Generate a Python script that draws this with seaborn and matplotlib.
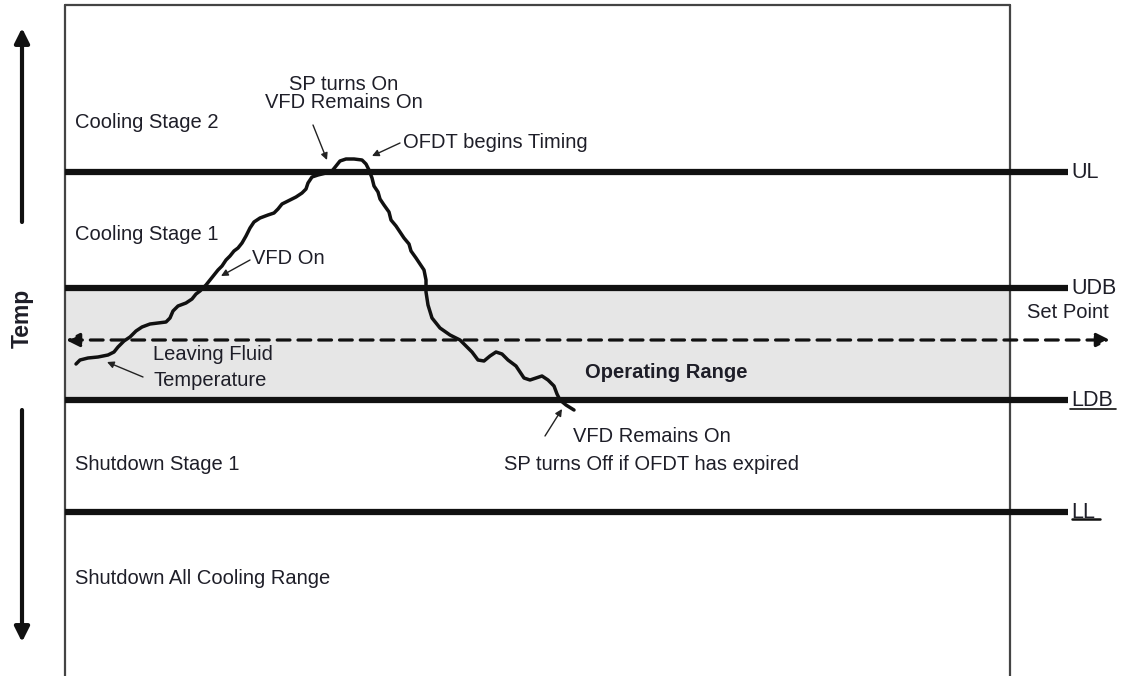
import matplotlib
matplotlib.use("Agg")
import matplotlib.pyplot as plt
import seaborn as sns
import pandas as pd

sns.set_theme(style="white")
plt.rcParams['font.family'] = ['Liberation Sans', 'DejaVu Sans']

# ---- data (diagram coordinates: x = time, y = screen position of temperature) ----
level_names = ["UL", "UDB", "LDB", "LL"]
level_y = [172, 288, 400, 512]
setpoint_y = 340

curve_x = [76, 80, 88, 98, 108, 114, 118, 124, 130, 136, 142, 150, 158, 166, 170, 173, 178, 186,
           192, 196, 200, 206, 210, 214, 218, 222, 226, 230, 234, 238, 242, 246, 250, 254, 260,
           268, 274, 278, 282, 288, 296, 302, 306, 308, 312, 318, 326, 332, 336, 340, 346, 354,
           362, 366, 369, 372, 374, 378, 380, 384, 389, 391, 396, 400, 404, 409, 411, 416, 420,
           424, 426, 426, 428, 432, 440, 450, 460, 466, 472, 478, 484, 490, 496, 502, 508, 516,
           520, 524, 530, 536, 542, 548, 554, 557, 560, 566, 574]
curve_y = [364, 360, 358, 357, 355, 352, 347, 341, 337, 331, 327, 324, 323, 322, 318, 311, 306, 303,
           299, 294, 291, 285, 280, 275, 270, 266, 260, 256, 251, 248, 243, 236, 228, 222, 218,
           215, 213, 209, 204, 201, 197, 193, 189, 183, 177, 175, 173, 171, 166, 161, 159, 159,
           160, 164, 170, 178, 186, 192, 199, 205, 212, 220, 226, 232, 238, 244, 251, 258, 264,
           270, 280, 292, 305, 318, 328, 335, 340, 346, 352, 360, 361, 356, 352, 354, 360, 366,
           372, 378, 380, 378, 376, 380, 386, 394, 400, 405, 410]

zone_labels = ["Cooling Stage 2", "Cooling Stage 1", "Shutdown Stage 1", "Shutdown All Cooling Range"]
zone_label_y = [122, 235, 465, 578]

# ---- figure ----
fig = plt.figure(figsize=(11.32, 6.76), dpi=100)
ax = fig.add_axes([0, 0, 1, 1])

txt = "#1e1e28"
fs = 14.5
box_l, box_r, box_t = 65, 1010, 5

# operating range shading
ax.fill_between([box_l, box_r], level_y[1], level_y[2], color="#e6e6e6", zorder=0)

# box borders
ax.plot([box_l, box_l], [box_t, 676], color="#444444", lw=1.6, zorder=1)
ax.plot([box_l, box_r], [box_t, box_t], color="#444444", lw=1.6, zorder=1)
ax.plot([box_r, box_r], [box_t, 676], color="#444444", lw=1.6, zorder=1)

# level lines
ax.hlines(level_y, box_l, 1068, color="#111111", lw=4.5, zorder=3)
for name, y in zip(level_names, level_y):
    ax.text(1071, y, name, fontsize=15.5, color=txt, va="center", ha="left")
# underlines for LDB and LL
ax.plot([1070, 1116], [level_y[2] + 9, level_y[2] + 9], color="#111111", lw=1.2)
ax.plot([1072, 1100], [level_y[3] + 7, level_y[3] + 7], color="#111111", lw=1.8)
ax.text(1027, 312, "Set Point", fontsize=14.5, color=txt, va="center", ha="left")

# set point dashed line with arrows
ax.annotate("", xy=(1110, setpoint_y), xytext=(66, setpoint_y),
            arrowprops=dict(arrowstyle="<|-|>", color="#111111", lw=2.3, ls=(0, (4, 2.5)),
                            mutation_scale=20, shrinkA=0, shrinkB=0), zorder=4)

# temperature curve
df = pd.DataFrame({"x": curve_x, "y": curve_y})
sns.lineplot(data=df, x="x", y="y", sort=False, estimator=None, color="#111111",
             lw=2.5, ax=ax, zorder=5)
ax.set_xlim(0, 1132)
ax.set_ylim(676, 0)
ax.axis("off")

# zone labels
for lab, y in zip(zone_labels, zone_label_y):
    ax.text(75, y, lab, fontsize=fs, color=txt, va="center", ha="left")

ax.text(585, 373, "Operating Range", fontsize=fs, fontweight="bold", color=txt,
        va="center", ha="left")

# annotations
arrow_kw = dict(arrowstyle="-|>", color="#222222", lw=1.0, mutation_scale=10, shrinkA=0, shrinkB=0)
ax.text(344, 85, "SP turns On", fontsize=fs, color=txt, ha="center", va="center")
ax.text(344, 103, "VFD Remains On", fontsize=fs, color=txt, ha="center", va="center")
ax.annotate("", xy=(327, 160), xytext=(313, 125), arrowprops=arrow_kw)
ax.text(403, 142, "OFDT begins Timing", fontsize=fs, color=txt, ha="left", va="center")
ax.annotate("", xy=(372, 156), xytext=(400, 143), arrowprops=arrow_kw)
ax.text(252, 258, "VFD On", fontsize=fs, color=txt, ha="left", va="center")
ax.annotate("", xy=(221, 276), xytext=(250, 260), arrowprops=arrow_kw)
ax.text(153, 355, "Leaving Fluid", fontsize=fs, color=txt, ha="left", va="center")
ax.text(153, 380, "Temperature", fontsize=fs, color=txt, ha="left", va="center")
ax.annotate("", xy=(107, 362), xytext=(143, 377), arrowprops=arrow_kw)
ax.text(652, 437, "VFD Remains On", fontsize=fs, color=txt, ha="center", va="center")
ax.text(652, 464, "SP turns Off if OFDT has expired", fontsize=fs, color=txt, ha="center", va="center")
ax.annotate("", xy=(562, 409), xytext=(545, 436), arrowprops=arrow_kw)

# Temp axis arrows
big_kw = dict(arrowstyle="-|>", color="#111111", lw=3.0, mutation_scale=22, shrinkA=0, shrinkB=0)
ax.annotate("", xy=(22, 28), xytext=(22, 222), arrowprops=big_kw)
ax.annotate("", xy=(22, 642), xytext=(22, 410), arrowprops=big_kw)
ax.text(22, 318, "Temp", fontsize=16.5, fontweight="bold", color=txt, rotation=90,
        ha="center", va="center")

fig.savefig("out.png", dpi=100)
